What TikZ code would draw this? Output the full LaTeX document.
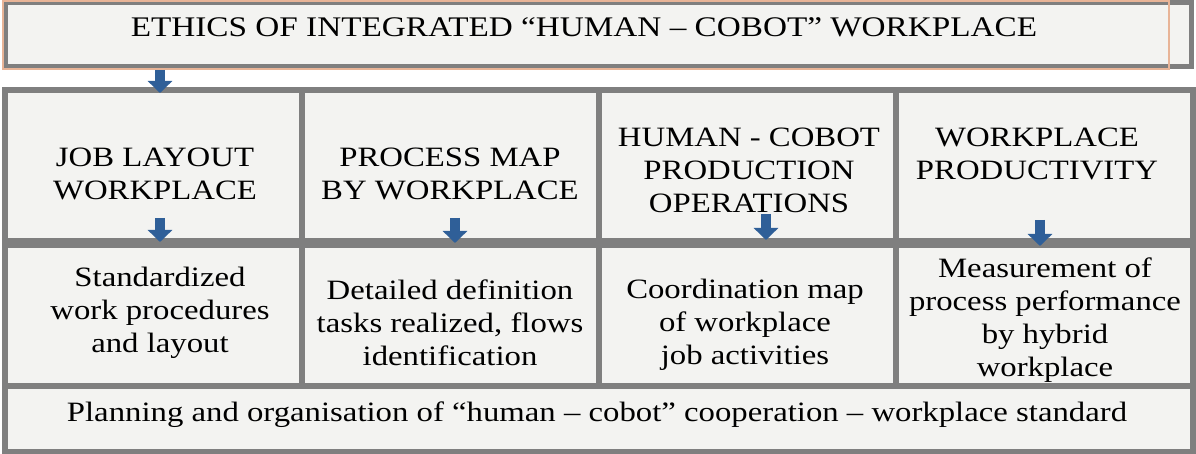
\documentclass[tikz,border=0pt]{standalone}
\usepackage{fontspec}
\setmainfont[FakeStretch=1.17]{Liberation Serif}
\usetikzlibrary{arrows.meta}
\definecolor{gridgrey}{HTML}{7F7F7F}
\definecolor{cellfill}{HTML}{F3F3F1}
\definecolor{edgeorange}{HTML}{E8B497}
\definecolor{arrowblue}{HTML}{2F5F98}
\tikzset{
  gridline/.style={draw=gridgrey, line width=3pt},
  txt/.style={align=center, anchor=base, inner sep=0pt, font=\fontsize{14}{16.5}\selectfont},
  blockarrow/.style={draw=arrowblue, line width=5pt, -{Triangle[width=12pt,length=6pt]}}
}
\begin{document}
\begin{tikzpicture}[x=0.5pt,y=-0.5pt]
\useasboundingbox (0,0) rectangle (1196,454);
% title box
\filldraw[fill=cellfill, draw=gridgrey, line width=2.5pt] (5,3) rectangle (1191,67);
\draw[edgeorange, line width=0.6pt] (3,1) rectangle (1169,69);
\node[txt, font=\fontsize{14.2}{17}\selectfont] (title) at (584,37) {ETHICS OF INTEGRATED “HUMAN – COBOT” WORKPLACE};
% grid
\filldraw[fill=cellfill, gridline] (5,90) rectangle (1193,452);
\draw[gridline, line width=5pt] (5,243) -- (1193,243);
\draw[gridline] (5,386) -- (1193,386);
\foreach \x in {302,599,896} \draw[gridline] (\x,90) -- (\x,386);
% header texts (anchor = baseline of last line)
\node[txt] (h1) at (155,200) {JOB LAYOUT\\WORKPLACE};
\node[txt] (h2) at (450,200) {PROCESS MAP\\BY WORKPLACE};
\node[txt] (h3) at (749,213) {HUMAN - COBOT\\PRODUCTION\\OPERATIONS};
\node[txt] (h4) at (1037,180) {WORKPLACE\\PRODUCTIVITY};
% detail texts
\node[txt] (d1) at (160,353) {Standardized\\work procedures\\and layout};
\node[txt] (d2) at (450,366) {Detailed definition\\tasks realized, flows\\identification};
\node[txt] (d3) at (745,365) {Coordination map\\of workplace\\job activities};
\node[txt] (d4) at (1045,377) {Measurement of\\process performance\\by hybrid\\workplace};
% bottom
\node[txt] (base) at (597,422) {Planning and organisation of “human – cobot” cooperation – workplace standard};
% arrows
\coordinate (a0s) at (160,70); \coordinate (a0e) at (160,93);
\coordinate (a1s) at (160,218); \coordinate (a1e) at (160,242);
\coordinate (a2s) at (455,218); \coordinate (a2e) at (455,243);
\coordinate (a3s) at (766,214); \coordinate (a3e) at (766,240);
\coordinate (a4s) at (1040,220); \coordinate (a4e) at (1040,246);
\foreach \i in {0,...,4} \draw[blockarrow] (a\i s) -- (a\i e);
\end{tikzpicture}
\end{document}
